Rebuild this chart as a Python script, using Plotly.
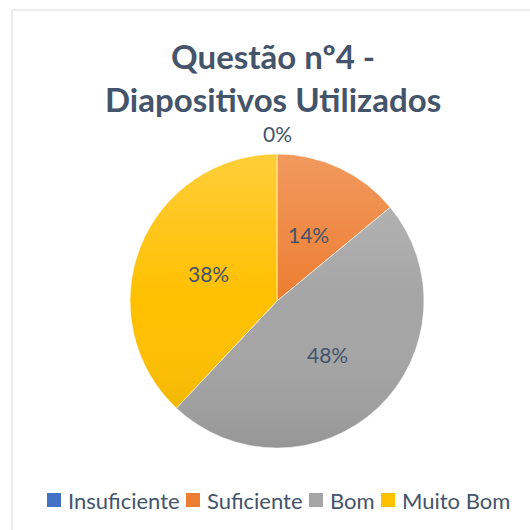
import math
import base64
import plotly.graph_objects as go

# Survey answers for question 4 (share of responses, %)
categorias = ["Insuficiente", "Suficiente", "Bom", "Muito Bom"]
valores = [0, 14, 48, 38]
cores = ["#4472C4", "#ED7D31", "#A5A5A5", "#FFC000"]
titulo = "Questão nº4 -<br>Diapositivos Utilizados"

W = H = 530
TXT = "#44546A"
FONT = "Lato"

# pie placement (pixels)
cx, cy, r = 277, 301, 147

def px_x(v):
    return v / W

def px_y(v):
    return 1 - v / H

fig = go.Figure(go.Pie(
    labels=categorias,
    values=valores,
    marker=dict(colors=cores, line=dict(color="rgba(255,255,255,0.6)", width=1)),
    sort=False,
    direction="clockwise",
    rotation=0,
    textinfo="none",
    hoverinfo="label+percent",
    showlegend=False,
    domain=dict(x=[px_x(cx - r), px_x(cx + r)], y=[px_y(cy + r), px_y(cy - r)]),
))

# soft top-to-bottom shading over the pie
svg = (
    '<svg xmlns="http://www.w3.org/2000/svg" width="200" height="200" viewBox="0 0 200 200">'
    '<defs><linearGradient id="g" x1="0" y1="0" x2="0" y2="1">'
    '<stop offset="0" stop-color="#ffffff" stop-opacity="0.22"/>'
    '<stop offset="0.5" stop-color="#ffffff" stop-opacity="0"/>'
    '<stop offset="1" stop-color="#000000" stop-opacity="0.09"/>'
    '</linearGradient></defs>'
    '<circle cx="100" cy="100" r="100" fill="url(#g)"/></svg>'
)
shade = "data:image/svg+xml;base64," + base64.b64encode(svg.encode()).decode()

# percentage labels placed at the middle angle of each slice
total = sum(valores)
acc = 0
anns = []
for v in valores:
    frac = v / total
    mid = (acc + frac / 2) * 2 * math.pi
    acc += frac
    dist = 0.5 * r if v > 0 else 1.14 * r
    anns.append(dict(
        x=px_x(cx + dist * math.sin(mid)), y=px_y(cy - dist * math.cos(mid)),
        xref="paper", yref="paper",
        text=f"{round(frac * 100)}%", showarrow=False,
        font=dict(family=FONT, size=21, color=TXT),
        xanchor="center", yanchor="middle",
    ))

anns.append(dict(
    x=px_x(273), y=px_y(78), xref="paper", yref="paper",
    text=titulo, showarrow=False,
    font=dict(family=FONT, size=33, color=TXT, weight="bold"),
    xanchor="center", yanchor="middle",
))

# legend row: colour square followed by the category name
legend_x = [47, 186, 309, 381]
legend_y = 500
shapes = [dict(
    type="rect", xref="paper", yref="paper",
    x0=px_x(12), x1=1.05, y0=-0.05, y1=px_y(10),
    line=dict(color="#D9D9D9", width=1), layer="below",
)]
for name, col, lx in zip(categorias, cores, legend_x):
    shapes.append(dict(
        type="rect", xref="paper", yref="paper",
        x0=px_x(lx), x1=px_x(lx + 14), y0=px_y(legend_y + 7), y1=px_y(legend_y - 7),
        fillcolor=col, line=dict(width=0),
    ))
    anns.append(dict(
        x=px_x(lx + 19), y=px_y(legend_y), xref="paper", yref="paper",
        text=name, showarrow=False,
        font=dict(family=FONT, size=22, color=TXT),
        xanchor="left", yanchor="middle",
    ))

fig.update_layout(
    width=W, height=H,
    margin=dict(l=0, r=0, t=0, b=0),
    paper_bgcolor="white",
    plot_bgcolor="white",
    annotations=anns,
    shapes=shapes,
    images=[dict(
        source=shade, xref="paper", yref="paper",
        x=px_x(cx - r), y=px_y(cy - r), sizex=2 * r / W, sizey=2 * r / H,
        xanchor="left", yanchor="top", sizing="stretch", layer="above",
    )],
)

fig.write_html("out.html")
